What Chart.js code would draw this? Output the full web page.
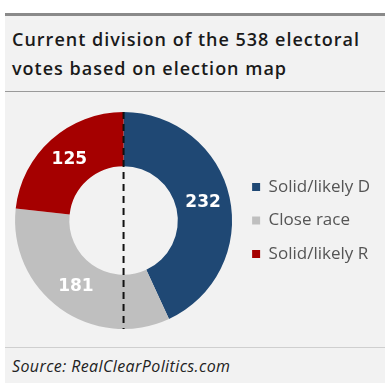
<!DOCTYPE html>
<html>
<head>
<meta charset="utf-8">
<script src="https://cdn.jsdelivr.net/npm/chart.js@4.4.1/dist/chart.umd.min.js"></script>
<style>
  html, body { margin: 0; padding: 0; background: #ffffff; }
  body { width: 385px; height: 383px; position: relative; overflow: hidden; font-family: "Open Sans", Roboto, sans-serif; }
  #panel { position: absolute; left: 5px; top: 13px; width: 380px; height: 370px; background: #f2f2f2; border-top: 3px solid #8a8a8a; box-sizing: border-box; }
  #title { position: absolute; left: 12px; top: 25px; width: 373px; white-space: nowrap; font-size: 18px; font-weight: 600; letter-spacing: 1px; line-height: 29px; color: #1a1a1a; }
  #sep1 { position: absolute; left: 5px; top: 91px; width: 380px; height: 1px; background: #9a9a9a; }
  #sep2 { position: absolute; left: 5px; top: 347px; width: 380px; height: 1px; background: #cfcfcf; }
  #source { position: absolute; left: 12px; top: 355px; font-size: 16px; letter-spacing: 0.4px; font-style: italic; color: #222; }
  #wrap { position: absolute; left: 5px; top: 92px; width: 380px; height: 255px; }
</style>
</head>
<body>
<div id="panel"></div>
<div id="title">Current division of the 538 electoral<br>votes based on election map</div>
<div id="sep1"></div>
<div id="wrap"><canvas id="c" width="380" height="255"></canvas></div>
<div id="sep2"></div>
<div id="source">Source: RealClearPolitics.com</div>
<script>
const categories = ["Solid/likely D", "Close race", "Solid/likely R"];
const votes = [232, 181, 125];
const colors = ["#1f4874", "#bfbfbf", "#a50000"];

const dividerAndLabels = {
  id: "dividerAndLabels",
  afterDatasetsDraw(chart) {
    const ctx = chart.ctx;
    const meta = chart.getDatasetMeta(0);
    const arc0 = meta.data[0];
    ctx.save();
    ctx.strokeStyle = "#111";
    ctx.lineWidth = 2;
    ctx.setLineDash([7, 5]);
    ctx.beginPath();
    ctx.moveTo(arc0.x, arc0.y - arc0.outerRadius);
    ctx.lineTo(arc0.x, arc0.y + arc0.outerRadius);
    ctx.stroke();
    ctx.restore();
    ctx.save();
    ctx.fillStyle = "#ffffff";
    ctx.font = "bold 17px 'DejaVu Sans'";
    ctx.textAlign = "center";
    ctx.textBaseline = "middle";
    meta.data.forEach((arc, i) => {
      const p = arc.tooltipPosition();
      ctx.fillText(String(votes[i]), p.x, p.y);
    });
    ctx.restore();
  }
};

const pad = 16.5;
new Chart(document.getElementById("c"), {
  type: "doughnut",
  data: {
    labels: categories,
    datasets: [{ data: votes, backgroundColor: colors, borderWidth: 0, hoverOffset: 0 }]
  },
  options: {
    responsive: false,
    animation: false,
    cutout: "50%",
    layout: { padding: { left: pad - 10, right: 5, top: 20, bottom: 18 } },
    plugins: {
      tooltip: { enabled: false },
      legend: {
        position: "right",
        labels: {
          boxWidth: 8,
          boxHeight: 8,
          padding: pad,
          color: "#555555",
          font: { family: "Open Sans", size: 17 }
        }
      }
    }
  },
  plugins: [dividerAndLabels]
});
</script>
</body>
</html>
